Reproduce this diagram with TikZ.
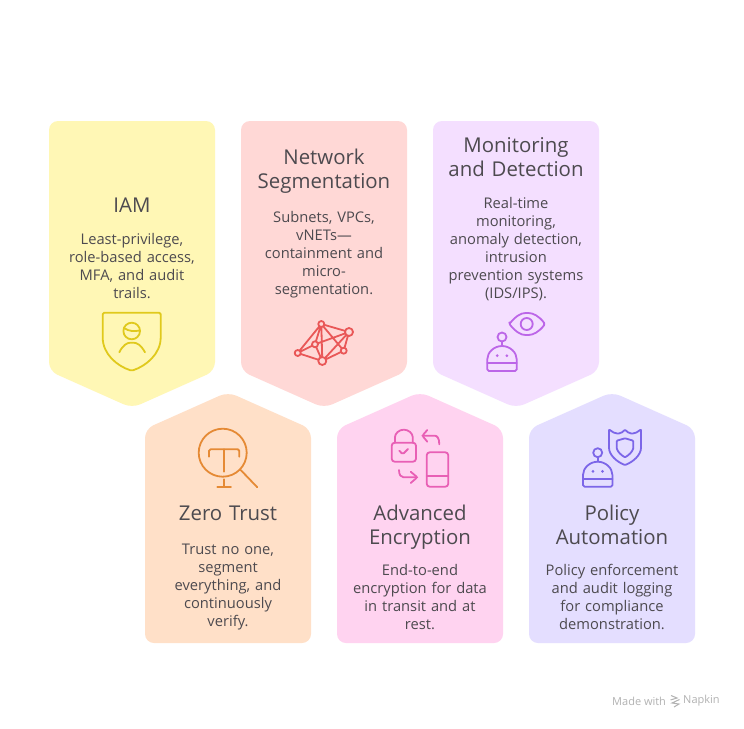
\documentclass[tikz,border=0pt]{standalone}
\usepackage{fontspec}
\setmainfont{Open Sans}
\definecolor{txt}{HTML}{4D4A4F}
\definecolor{cardy}{HTML}{FFF7B5}\definecolor{icony}{HTML}{E0C91C}
\definecolor{cardr}{HTML}{FFD8D6}\definecolor{iconr}{HTML}{E95757}
\definecolor{cardp}{HTML}{F4DFFF}\definecolor{iconp}{HTML}{BC66E8}
\definecolor{cardo}{HTML}{FFE0C8}\definecolor{icono}{HTML}{E58A35}
\definecolor{cardm}{HTML}{FFD3F0}\definecolor{iconm}{HTML}{E85FB5}
\definecolor{cardl}{HTML}{E4DEFF}\definecolor{iconl}{HTML}{7C66E8}
\tikzset{
  card/.style={rounded corners=9pt},
  icon/.style={line width=1.8pt,line cap=round,line join=round,rounded corners=1.5pt},
  titletext/.style={text=txt,align=center,font=\fontsize{20.4}{24}\selectfont,text width=160pt,inner sep=0pt},
  bodytext/.style={text=txt,align=center,font=\fontsize{14.7}{18}\selectfont,text width=164pt,inner sep=0pt},
}
\newcommand{\downcard}[2]{\fill[card,fill=#2] (#1,121) -- ++(166,0) -- ++(0,250) -- ++(-83,37) -- ++(-83,-37) -- cycle;}
\newcommand{\upcard}[2]{\fill[card,fill=#2] (#1,643) -- ++(166,0) -- ++(0,-214) -- ++(-83,-37) -- ++(-83,37) -- cycle;}
\newcommand{\robot}[3]{%
  \begin{scope}[shift={(#1,#2)},icon,draw=#3]
    \draw (0,-9) circle (4.5);
    \draw (0,-4.5) -- (0,0);
    \draw (-14.7,25) -- (-14.7,14.7) arc[start angle=180,end angle=360,radius=14.7] -- (14.7,25) -- cycle;
    \draw (-14.7,17) -- (14.7,17);
    \fill[#3] (-4.8,9.7) circle (1.5) (4.8,9.7) circle (1.5);
  \end{scope}}
\begin{document}
\begin{tikzpicture}[x=1pt,y=-1pt]
\useasboundingbox (0,0) rectangle (744,728);
\fill[white] (0,0) rectangle (744,728);
\downcard{49}{cardy}\downcard{241}{cardr}\downcard{433}{cardp}
\upcard{145}{cardo}\upcard{337}{cardm}\upcard{529}{cardl}

\node[titletext] (t1) at (132,205) {IAM};
\node[bodytext] (b1) at (132,266) {Least-privilege,\\role-based access,\\MFA, and audit\\trails.};
\node[titletext] (t2) at (324,171) {Network\\Segmentation};
\node[bodytext] (b2) at (324,255) {Subnets, VPCs,\\vNETs—\\containment and\\micro-\\segmentation.};
\node[titletext] (t3) at (516,157) {Monitoring\\and Detection};
\node[bodytext] (b3) at (516,249) {Real-time\\monitoring,\\anomaly detection,\\intrusion\\prevention systems\\(IDS/IPS).};
\node[titletext] (t4) at (228,513) {Zero Trust};
\node[bodytext] (b4) at (228,587) {Trust no one,\\segment\\everything, and\\continuously\\verify.};
\node[titletext] (t5) at (420,527) {Advanced\\Encryption};
\node[bodytext] (b5) at (420,597) {End-to-end\\encryption for data\\in transit and at\\rest.};
\node[titletext] (t6) at (612,525) {Policy\\Automation};
\node[bodytext] (b6) at (612,597) {Policy enforcement\\and audit logging\\for compliance\\demonstration.};

% IAM icon
\begin{scope}[icon,draw=icony]
  \draw (102.7,312.7) -- (160.7,312.7) -- (160.7,336) .. controls (160.7,354) and (146,366) .. (131.7,370.7) .. controls (117,366) and (102.7,354) .. (102.7,336) -- cycle;
  \draw (131.7,331) circle (8.3);
  \draw (124,328) .. controls (129,331.5) and (134,331.5) .. (140,330.5);
  \draw (119.3,352.3) .. controls (123,345) and (127,342.7) .. (132,342.7) .. controls (137,342.7) and (141,345) .. (145,352.3);
\end{scope}

% network icon
\begin{scope}[icon,draw=iconr]
  \coordinate (na) at (321.3,324);\coordinate (nb) at (349,332);\coordinate (nc) at (315,344.3);
  \coordinate (nd) at (343.7,350.7);\coordinate (ne) at (297.7,353);\coordinate (nf) at (322.3,361);
  \draw (na)--(nb) (na)--(nc) (na)--(ne) (na)--(nf) (na)--(nd) (nb)--(nd) (nb)--(nc) (nb)--(nf)
        (nc)--(ne) (nc)--(nf) (ne)--(nf) (nd)--(nf);
  \filldraw[fill=cardr] (na) circle (3) (nc) circle (3) (nd) circle (3) (ne) circle (3) (nb) circle (4) (nf) circle (4);
\end{scope}

% monitoring icon
\begin{scope}[icon,draw=iconp]
  \draw (509.3,324) .. controls (516,316) and (521,313) .. (527,313) .. controls (533,313) and (539,316) .. (545,324) .. controls (539,332) and (533,335) .. (527,335) .. controls (521,335) and (516,332) .. (509.3,324) -- cycle;
  \draw (526.7,324) circle (6);
\end{scope}
\robot{502}{346}{iconp}

% zero trust icon
\begin{scope}[icon,draw=icono]
  \draw (222.7,452.7) circle (24);
  \draw (209,456.7) -- (209,449.3) -- (239.3,449.3) -- (239.3,456.7);
  \draw (224,449.3) -- (224,471.7);
  \draw (224,479.3) -- (224,486.7) (217.3,486.7) -- (231,486.7);
  \draw (240.7,470) -- (257.3,487.3);
\end{scope}

% encryption icon
\begin{scope}[icon,draw=iconm]
  \draw[rounded corners=3pt] (391.7,442.7) rectangle (416,461.7);
  \draw (395,442.7) -- (395,438.5) arc[start angle=180,end angle=360,radius=8.85] -- (412.7,442.7);
  \draw (399.3,450.7) -- (402.7,454.3) -- (408,449);
  \draw (439.3,444.3) .. controls (439.3,438) and (437,435.7) .. (433.3,435.7) -- (422.3,435.7);
  \draw (427.3,430) -- (422.3,435.7) -- (427.3,441.7);
  \draw[rounded corners=3pt] (426.7,452.3) rectangle (448.3,486.7);
  \draw (426.7,475.7) -- (448.3,475.7);
  \draw (399,470) .. controls (399,475) and (401,477.3) .. (405,477.3) -- (417.3,477.3);
  \draw (410.7,471.7) -- (417.3,477.3) -- (410.7,483);
\end{scope}

% policy icon
\robot{597.7}{461.7}{iconl}
\begin{scope}[icon,draw=iconl,rounded corners=0.8pt]
  \draw (609,429.3) .. controls (612,432) and (615,433.5) .. (618,433.5) .. controls (621,433.5) and (623,431.5) .. (625,429.8) .. controls (627,431.5) and (629,433.5) .. (632,433.5) .. controls (635,433.5) and (638,432) .. (641,429.3) -- (641,447) .. controls (641,455) and (633,462) .. (625,465) .. controls (617,462) and (609,455) .. (609,447) -- cycle;
  \draw (616.7,440.7) -- (625,438.3) -- (633.3,440.7) -- (633.3,448.3) .. controls (632,452) and (629,455) .. (625,457.3) .. controls (621,455) and (618,452) .. (616.7,448.3) -- cycle;
\end{scope}

% footer
\node[text=black!30,anchor=west,inner sep=0pt,font=\fontsize{11}{12}\selectfont] (f1) at (612,701) {Made with};
\node[text=black!30,anchor=west,inner sep=0pt,font=\fontsize{11}{12}\selectfont] (f2) at (683,701) {Napkin};
\draw[black!30,line width=1pt] (671,695.5) -- (677,698) -- (670.5,700) (679.5,699.5) -- (672,703) -- (679,704) -- (674,707);
\end{tikzpicture}
\end{document}
